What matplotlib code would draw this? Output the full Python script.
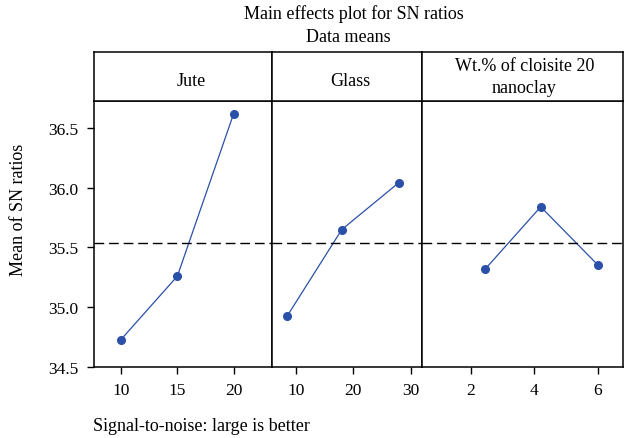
import matplotlib.pyplot as plt

plt.rcParams['font.family'] = ['Liberation Serif', 'DejaVu Serif']

# factor levels (x) and mean S/N ratio per level (y)
jute_x = [10, 15, 20]
jute_y = [34.73, 35.26, 36.62]
glass_x = [8.5, 18.0, 27.9]
glass_y = [34.93, 35.65, 36.04]
clay_x = [2.45, 4.2, 6.0]
clay_y = [35.32, 35.84, 35.355]

overall_mean = 35.54

panel_titles = ['Jute', 'Glass', 'Wt.% of cloisite 20\nnanoclay']
panel_ticks = [[10, 15, 20], [10, 20, 30], [2, 4, 6]]
y_ticks = [34.5, 35.0, 35.5, 36.0, 36.5]

W, H = 628, 439
fig = plt.figure(figsize=(W / 100, H / 100), dpi=100)

# panel edges in pixels
edges = [94, 272, 422, 623]
top, head_top, bottom = 102, 53, 368
xlims = [(7.6, 23.4), (5.8, 32.0), (0.45, 6.8)]
data = [(jute_x, jute_y), (glass_x, glass_y), (clay_x, clay_y)]
head_pos = [(0.545, 0.42), (0.52, 0.42), (0.51, 0.5)]

blue = '#2b50a8'
for i in range(3):
    x0, x1 = edges[i], edges[i + 1]
    ax = fig.add_axes([x0 / W, (H - bottom) / H, (x1 - x0) / W, (bottom - top) / H])
    xs, ys = data[i]
    ax.plot(xs, ys, color=blue, lw=0.9, marker='o', ms=5.5)
    ax.axhline(overall_mean, color='black', lw=1.0, ls=(0, (7, 3.5)))
    ax.set_xlim(*xlims[i])
    ax.set_ylim(34.5, 36.725)
    ax.set_xticks(panel_ticks[i])
    ax.tick_params(axis='both', direction='out', length=5, width=1, labelsize=12.5, pad=6)
    ax.set_yticks(y_ticks)
    if i == 0:
        ax.set_yticklabels([f'{v:.1f}' for v in y_ticks])
    else:
        ax.tick_params(axis='y', left=False, labelleft=False)
    for s in ax.spines.values():
        s.set_linewidth(1.1)

    hax = fig.add_axes([x0 / W, (H - top) / H, (x1 - x0) / W, (top - head_top) / H])
    hax.set_xticks([])
    hax.set_yticks([])
    for s in hax.spines.values():
        s.set_linewidth(1.1)
    hx, hy = head_pos[i]
    hax.text(hx, hy, panel_titles[i], ha='center', va='center', fontsize=13,
             transform=hax.transAxes, linespacing=1.4)

fig.text(354 / W, 1 - 14 / H, 'Main effects plot for SN ratios', ha='center', va='center', fontsize=13)
fig.text(348 / W, 1 - 37 / H, 'Data means', ha='center', va='center', fontsize=13)
fig.text(19 / W, 1 - 210 / H, 'Mean of SN ratios', rotation=90, ha='center', va='center', fontsize=13)
fig.text(93 / W, 1 - 427 / H, 'Signal-to-noise: large is better', ha='left', va='center', fontsize=13)

fig.savefig('out.png', dpi=100)
